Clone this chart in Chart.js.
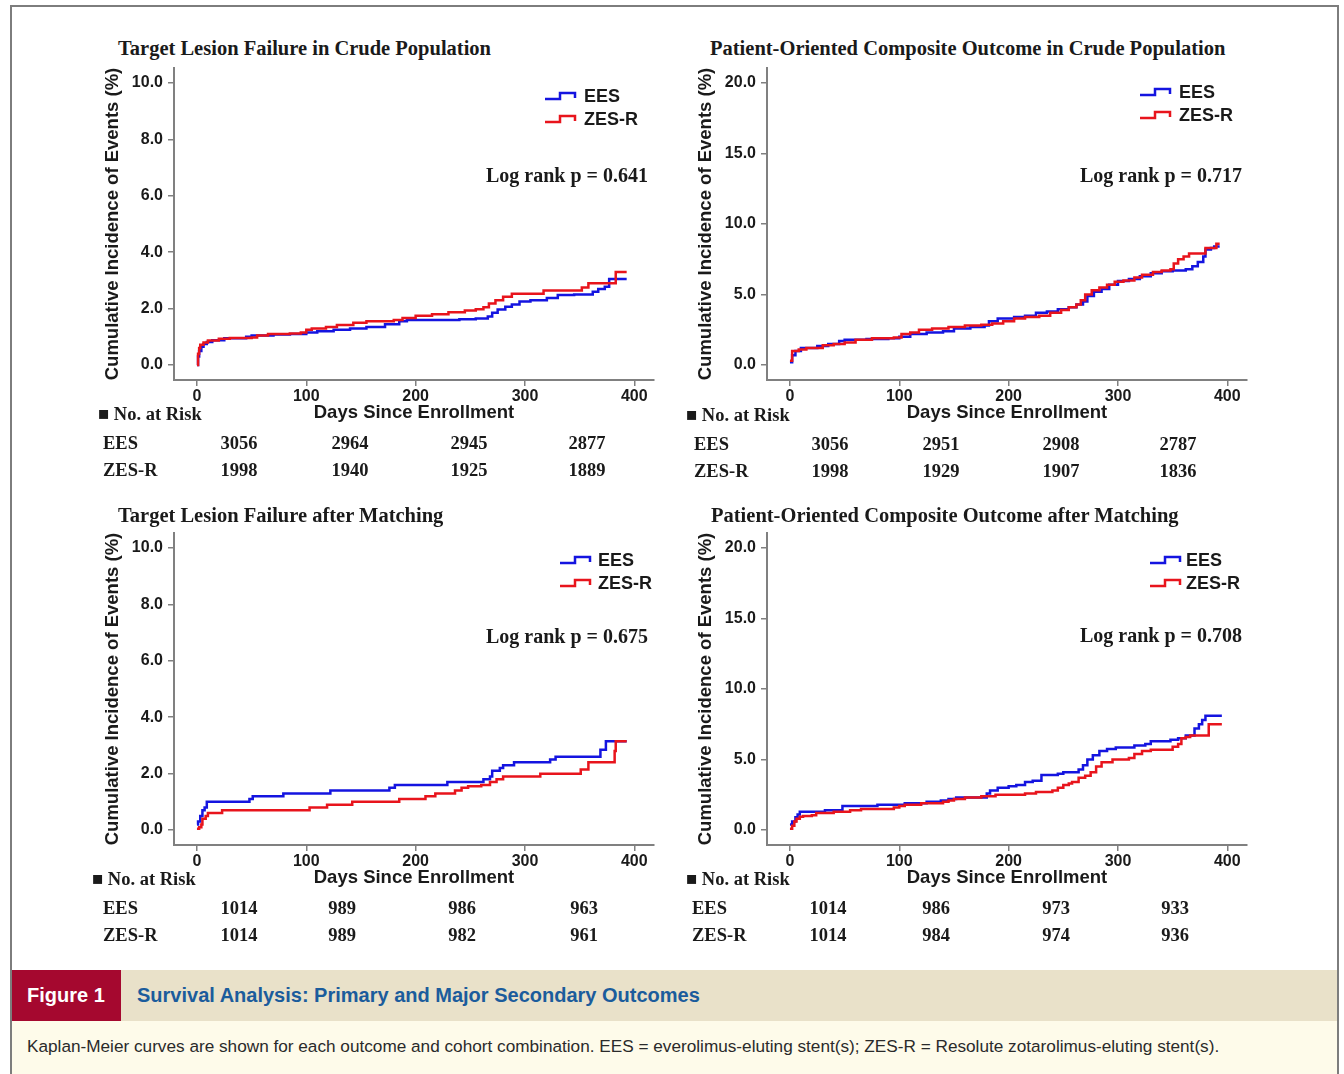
<!DOCTYPE html>
<html>
<head>
<meta charset="utf-8">
<script src="https://cdn.jsdelivr.net/npm/chart.js@4.4.1/dist/chart.umd.min.js"></script>
<style>
  body { margin: 0; width: 1344px; height: 1074px; background: #fff; position: relative; overflow: hidden; }
  #frame { position: absolute; left: 10px; top: 5px; width: 1325px; height: 1080px; border: 2px solid #7d7d7d; border-bottom: none; }
  canvas { position: absolute; }
  .t { position: absolute; white-space: nowrap; line-height: 1; color: #1a1a1a; }
  .serif { font-family: 'Liberation Serif', 'Times New Roman', serif; font-weight: bold; }
  .ttl { font-size: 20.5px; transform: translateY(-50%); }
  .lr { font-size: 20px; transform: translate(-100%, -50%); }
  .rk { font-size: 18.5px; transform: translateY(-50%); }
  .num { font-size: 18.5px; transform: translate(-50%, -50%); }
  #capbar { position: absolute; left: 12px; top: 970px; width: 1325px; height: 51px; background: #e9e1c9; }
  #figlab { position: absolute; left: 12px; top: 970px; width: 109px; height: 51px; background: #a5082f; }
  #capbody { position: absolute; left: 12px; top: 1021px; width: 1325px; height: 60px; background: #fefbea; }
  .sans { font-family: 'Liberation Sans', Arial, sans-serif; }
</style>
</head>
<body>
<div id="frame"></div>
<canvas id="c1" width="580" height="365" style="left:90px;top:60px"></canvas>
<canvas id="c2" width="580" height="365" style="left:683px;top:60px"></canvas>
<canvas id="c3" width="580" height="365" style="left:90px;top:525px"></canvas>
<canvas id="c4" width="580" height="365" style="left:683px;top:525px"></canvas>
<div id="capbar"></div>
<div id="figlab"></div>
<div id="capbody"></div>
<div id="texts"></div>
<script>
// x axis ticks (days) and y axis ticks (%)
const dayTicks = [0, 100, 200, 300, 400];
const tlfTicks = [0, 2, 4, 6, 8, 10];
const pocoTicks = [0, 5, 10, 15, 20];

// Kaplan-Meier curves: [day, cumulative incidence %]
const tlfCrudeEES = [[0,0],[1,0.3],[2,0.5],[4,0.65],[6,0.75],[9,0.82],[14,0.88],[25,0.95],[45,1.0],[50,1.05],[70,1.08],[85,1.1],[100,1.15],[110,1.2],[125,1.25],[140,1.3],[155,1.35],[172,1.45],[185,1.55],[192,1.6],[240,1.62],[255,1.65],[266,1.72],[270,1.85],[275,1.97],[282,2.07],[288,2.15],[295,2.25],[305,2.3],[320,2.38],[330,2.48],[345,2.5],[362,2.6],[367,2.7],[373,2.78],[377,3.05],[393,3.05]];
const tlfCrudeZES = [[0,0],[1,0.4],[2,0.6],[3,0.72],[6,0.8],[10,0.87],[20,0.93],[30,0.96],[50,0.98],[55,1.05],[65,1.1],[85,1.12],[95,1.15],[100,1.25],[105,1.3],[118,1.35],[128,1.42],[143,1.5],[155,1.55],[180,1.6],[188,1.67],[200,1.75],[215,1.8],[230,1.87],[245,1.93],[255,1.98],[262,2.05],[267,2.18],[273,2.3],[280,2.42],[288,2.53],[317,2.64],[352,2.75],[358,2.9],[383,3.3],[393,3.3]];
const pocoCrudeEES = [[0,0.2],[2,0.7],[5,1.0],[10,1.2],[25,1.35],[35,1.5],[45,1.7],[50,1.8],[70,1.85],[90,1.9],[100,2.0],[110,2.2],[125,2.3],[140,2.4],[150,2.6],[165,2.7],[178,2.8],[182,3.1],[190,3.3],[205,3.4],[215,3.5],[225,3.7],[235,3.8],[245,3.95],[255,4.1],[262,4.3],[268,4.5],[272,4.9],[278,5.2],[285,5.4],[292,5.7],[300,5.95],[310,6.1],[320,6.3],[330,6.5],[340,6.65],[350,6.7],[362,6.8],[368,7.0],[373,7.3],[378,7.7],[380,8.2],[385,8.3],[388,8.4],[393,8.4]];
const pocoCrudeZES = [[0,0.3],[2,1.0],[8,1.1],[15,1.2],[30,1.4],[40,1.5],[50,1.6],[60,1.8],[75,1.9],[95,1.95],[102,2.2],[110,2.3],[118,2.5],[130,2.6],[145,2.7],[160,2.8],[175,2.85],[185,2.95],[195,3.1],[205,3.3],[215,3.4],[228,3.5],[238,3.7],[248,3.9],[255,4.1],[262,4.3],[266,4.6],[270,5.0],[276,5.3],[283,5.5],[290,5.7],[297,5.9],[305,6.0],[315,6.2],[322,6.4],[332,6.6],[340,6.7],[348,6.8],[351,7.2],[355,7.5],[360,7.7],[365,7.9],[380,8.3],[390,8.6],[393,8.6]];
const tlfMatchEES = [[0,0.2],[1,0.3],[3,0.5],[5,0.7],[7,0.8],[9,1.0],[48,1.1],[51,1.2],[79,1.3],[122,1.4],[176,1.5],[181,1.6],[229,1.7],[262,1.8],[268,1.9],[270,2.1],[277,2.2],[280,2.3],[290,2.4],[323,2.5],[328,2.6],[369,2.85],[374,3.15],[393,3.15]];
const tlfMatchZES = [[0,0.05],[2,0.1],[4,0.2],[5,0.4],[8,0.5],[10,0.6],[23,0.7],[103,0.8],[119,0.9],[142,1.0],[185,1.1],[209,1.2],[218,1.3],[236,1.4],[242,1.5],[248,1.55],[260,1.6],[268,1.7],[274,1.8],[280,1.9],[314,2.0],[351,2.15],[358,2.4],[382,2.8],[383,3.15],[393,3.15]];
const pocoMatchEES = [[0,0.4],[2,0.6],[5,0.9],[7,1.1],[9,1.3],[32,1.4],[48,1.7],[80,1.8],[105,1.9],[125,2.0],[138,2.1],[145,2.2],[152,2.3],[180,2.6],[183,2.8],[190,3.0],[200,3.1],[207,3.2],[215,3.4],[222,3.5],[230,3.9],[245,4.0],[250,4.1],[264,4.3],[268,4.6],[272,5.0],[277,5.3],[283,5.6],[290,5.75],[298,5.85],[315,6.0],[325,6.1],[330,6.3],[348,6.4],[355,6.5],[362,6.7],[370,7.2],[374,7.5],[377,7.8],[380,8.1],[395,8.1]];
const pocoMatchZES = [[0,0.1],[2,0.3],[4,0.6],[6,0.8],[9,0.95],[12,1.0],[20,1.05],[24,1.2],[40,1.3],[55,1.4],[65,1.5],[95,1.6],[100,1.7],[105,1.8],[120,1.9],[140,2.0],[145,2.1],[150,2.2],[160,2.3],[175,2.4],[188,2.5],[215,2.6],[225,2.7],[240,2.8],[245,3.0],[250,3.2],[255,3.3],[258,3.4],[264,3.7],[270,3.85],[275,4.1],[280,4.5],[285,4.8],[295,5.0],[310,5.1],[315,5.4],[322,5.6],[330,5.7],[350,5.9],[355,6.1],[358,6.5],[362,6.6],[366,6.7],[383,7.5],[395,7.5]];

// numbers at risk
const riskTlfCrudeEES = [3056, 2964, 2945, 2877];
const riskTlfCrudeZES = [1998, 1940, 1925, 1889];
const riskPocoCrudeEES = [3056, 2951, 2908, 2787];
const riskPocoCrudeZES = [1998, 1929, 1907, 1836];
const riskTlfMatchEES = [1014, 989, 986, 963];
const riskTlfMatchZES = [1014, 989, 982, 961];
const riskPocoMatchEES = [1014, 986, 973, 933];
const riskPocoMatchZES = [1014, 984, 974, 936];

const titles = ['Target Lesion Failure in Crude Population', 'Patient-Oriented Composite Outcome in Crude Population',
  'Target Lesion Failure after Matching', 'Patient-Oriented Composite Outcome after Matching'];
const logRanks = ['0.641', '0.717', '0.675', '0.708'];

const BLUE = '#1414e0';
const RED = '#e8141c';
const SANS = "'Liberation Sans', Arial, sans-serif";

// step-shaped legend, drawn inside the plot
const kmLegend = {
  id: 'kmLegend',
  afterDatasetsDraw(chart, args, opts) {
    const ctx = chart.ctx;
    const rows = [['EES', BLUE], ['ZES-R', RED]];
    ctx.save();
    rows.forEach(([label, color], i) => {
      const x = opts.x, y = opts.y + i * 23;
      ctx.strokeStyle = color;
      ctx.lineWidth = 2.5;
      ctx.beginPath();
      ctx.moveTo(x, y + 3);
      ctx.lineTo(x + 15, y + 3);
      ctx.lineTo(x + 15, y - 3);
      ctx.lineTo(x + 30, y - 3);
      ctx.lineTo(x + 30, y + 2);
      ctx.stroke();
      ctx.fillStyle = '#1a1a1a';
      ctx.font = 'bold 18px ' + SANS;
      ctx.textBaseline = 'middle';
      ctx.fillText(label, x + opts.gap, y + 1);
    });
    ctx.restore();
  }
};

const panels = [
  { id: 'c1', left: 90, top: 60, ees: tlfCrudeEES, zes: tlfCrudeZES, yTicks: tlfTicks, yMin: -0.53, yMax: 10.53,
    legend: [545, 96, 39], title: [118, 48], lr: [648, 175], risk: { x: 98, y: 414, rowX: 103, rows: [443, 470], cols: [239, 350, 469, 587] },
    riskE: riskTlfCrudeEES, riskZ: riskTlfCrudeZES },
  { id: 'c2', left: 683, top: 60, ees: pocoCrudeEES, zes: pocoCrudeZES, yTicks: pocoTicks, yMin: -1.06, yMax: 21.06,
    legend: [1140, 92, 39], title: [710, 48], lr: [1242, 175], risk: { x: 686, y: 415, rowX: 694, rows: [444, 471], cols: [830, 941, 1061, 1178] },
    riskE: riskPocoCrudeEES, riskZ: riskPocoCrudeZES },
  { id: 'c3', left: 90, top: 525, ees: tlfMatchEES, zes: tlfMatchZES, yTicks: tlfTicks, yMin: -0.53, yMax: 10.53,
    legend: [560, 560, 38], title: [118, 515], lr: [648, 636], risk: { x: 92, y: 879, rowX: 103, rows: [908, 935], cols: [239, 342, 462, 584] },
    riskE: riskTlfMatchEES, riskZ: riskTlfMatchZES },
  { id: 'c4', left: 683, top: 525, ees: pocoMatchEES, zes: pocoMatchZES, yTicks: pocoTicks, yMin: -1.06, yMax: 21.06,
    legend: [1150, 560, 36], title: [711, 515], lr: [1242, 635], risk: { x: 686, y: 879, rowX: 692, rows: [908, 935], cols: [828, 936, 1056, 1175] },
    riskE: riskPocoMatchEES, riskZ: riskPocoMatchZES }
];

const axisGrid = { drawOnChartArea: false, drawTicks: true, tickLength: 6, color: '#808080', lineWidth: 1.5 };
const axisBorder = { display: true, color: '#808080', width: 2 };
const tickFont = { family: SANS, weight: 'bold', size: 16 };
const titleFont = { family: SANS, weight: 'bold', size: 18.5 };

function series(points, label, color) {
  return {
    label: label,
    data: points.map(([x, y]) => ({ x: x, y: y })),
    borderColor: color,
    borderWidth: 2.5,
    stepped: 'before',
    pointRadius: 0,
    fill: false,
  };
}

function makeChart(p) {
  return new Chart(document.getElementById(p.id).getContext('2d'), {
    type: 'line',
    data: { datasets: [series(p.zes, 'ZES-R', RED), series(p.ees, 'EES', BLUE)] },
    options: {
      responsive: false,
      animation: false,
      layout: { padding: { top: 8, right: 16, left: 0, bottom: 0 } },
      plugins: {
        legend: { display: false },
        tooltip: { enabled: false },
        kmLegend: { x: p.legend[0] - p.left, y: p.legend[1] - p.top, gap: p.legend[2] },
      },
      scales: {
        x: {
          type: 'linear', min: -21, max: 418,
          afterBuildTicks: s => { s.ticks = dayTicks.map(v => ({ value: v })); },
          afterFit: s => { s.height = 45; s.paddingLeft = 0; s.paddingRight = 0; },
          ticks: { font: tickFont, color: '#1a1a1a', padding: 1, maxRotation: 0, autoSkip: false },
          grid: axisGrid, border: axisBorder,
          title: { display: true, text: 'Days Since Enrollment', font: titleFont, color: '#1a1a1a', padding: { top: 0, bottom: 1 } },
        },
        y: {
          type: 'linear', min: p.yMin, max: p.yMax,
          afterBuildTicks: s => { s.ticks = p.yTicks.map(v => ({ value: v })); },
          afterFit: s => { s.width = 84; s.paddingTop = 0; s.paddingBottom = 0; },
          ticks: { font: tickFont, color: '#1a1a1a', padding: 5, callback: v => v.toFixed(1) },
          grid: axisGrid, border: axisBorder,
          title: { display: true, text: 'Cumulative Incidence of Events (%)', font: titleFont, color: '#1a1a1a', padding: { top: 12, bottom: 0 } },
        },
      },
    },
    plugins: [kmLegend],
  });
}

function addText(cls, text, x, y) {
  const d = document.createElement('div');
  d.className = 't ' + cls;
  d.textContent = text;
  d.style.left = x + 'px';
  d.style.top = y + 'px';
  document.getElementById('texts').appendChild(d);
  return d;
}

panels.forEach((p, i) => {
  makeChart(p);
  addText('serif ttl', titles[i], p.title[0], p.title[1]);
  addText('serif lr', 'Log rank p = ' + logRanks[i], p.lr[0], p.lr[1]);
  addText('serif rk', '\u25A0 No. at Risk', p.risk.x, p.risk.y);
  addText('serif rk', 'EES', p.risk.rowX, p.risk.rows[0]);
  addText('serif rk', 'ZES-R', p.risk.rowX, p.risk.rows[1]);
  p.risk.cols.forEach((cx, j) => {
    addText('serif num', String(p.riskE[j]), cx, p.risk.rows[0]);
    addText('serif num', String(p.riskZ[j]), cx, p.risk.rows[1]);
  });
});

const fig = addText('sans', 'Figure 1', 27, 995);
fig.style.cssText += 'color:#fff;font-weight:bold;font-size:20px;transform:translateY(-50%);';
const capTitle = addText('sans', 'Survival Analysis: Primary and Major Secondary Outcomes', 137, 995);
capTitle.style.cssText += 'color:#1b5c9c;font-weight:bold;font-size:20px;transform:translateY(-50%);';
const capText = addText('sans', 'Kaplan-Meier curves are shown for each outcome and cohort combination. EES = everolimus-eluting stent(s); ZES-R = Resolute zotarolimus-eluting stent(s).', 27, 1047);
capText.style.cssText += 'color:#2a2a2a;font-size:17.2px;transform:translateY(-50%);';
</script>
</body>
</html>
